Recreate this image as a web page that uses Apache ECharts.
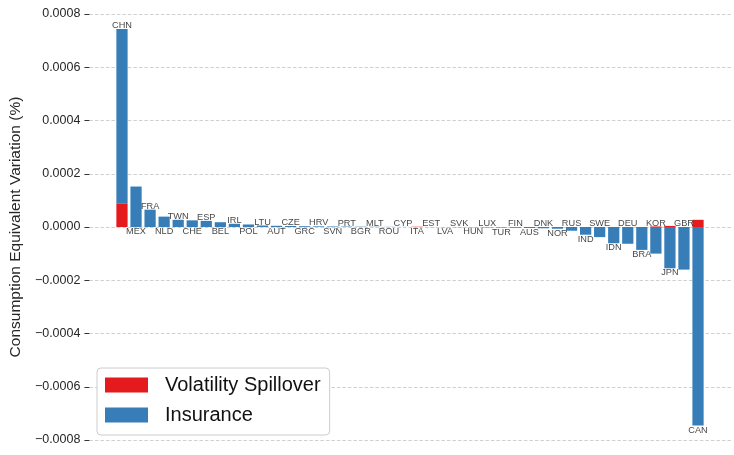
<!DOCTYPE html>
<html>
<head>
<meta charset="utf-8">
<script src="https://cdn.jsdelivr.net/npm/echarts@6/dist/echarts.min.js"></script>
<style>
  html, body { margin: 0; padding: 0; background: #fff; }
  #chart { width: 734px; height: 455px; }
</style>
</head>
<body>
<div id="chart"></div>
<script>
// countries in plotted order
const countries = [
  'CHN', 'MEX', 'FRA', 'NLD', 'TWN', 'CHE', 'ESP', 'BEL', 'IRL', 'POL',
  'LTU', 'AUT', 'CZE', 'GRC', 'HRV', 'SVN', 'PRT', 'BGR', 'MLT', 'ROU',
  'CYP', 'ITA', 'EST', 'LVA', 'SVK', 'HUN', 'LUX', 'TUR', 'FIN', 'AUS',
  'DNK', 'NOR', 'RUS', 'IND', 'SWE', 'IDN', 'DEU', 'BRA', 'KOR', 'JPN',
  'GBR', 'CAN'
];
const volatilitySpillover = [
  0.000089, 0, 0, 0, 0, 0, 0, 0, 0, 0,
  0, 0, 0, 0, 0, 0, 0, 0, 0, 0,
  0, 0.000001, 0, 0, 0, 0, 0, 0, 0, 0,
  0, 0, 0, 0, 0, 0, 0, 0, 0.000002, 0.000004,
  0, 0.000027
];
const insurance = [
  0.000655, 0.000152, 0.000065, 0.000039, 0.000027, 0.000025, 0.000023, 0.000018, 0.000012, 0.0000095,
  0.0000056, 0.0000045, 0.0000038, 0.000003, 0.0000024, 0.000002, 0.0000016, 0.0000012, 0.0000009, 0.0000006,
  0.0000003, -0.0000002, -0.0000003, -0.0000005, -0.0000008, -0.000001, -0.0000015, -0.000002, -0.0000028, -0.0000038,
  -0.0000048, -0.0000065, -0.000014, -0.000029, -0.000038, -0.000061, -0.000063, -0.000086, -0.0001, -0.000155,
  -0.00016, -0.000746
];
const yTicks = { min: -0.0008, max: 0.0008, interval: 0.0002 };

const chart = echarts.init(document.getElementById('chart'), null, { renderer: 'canvas' });

const textColor = '#262626';
const fontFamily = '"Liberation Sans", Arial, sans-serif';

// plot frame and the band layout inside it (matplotlib style side margins)
const frame = { left: 87, right: 1, top: 14, bottom: 15 };
const plotW = 734 - frame.left - frame.right;
const span = countries.length - 1 + 0.8;      // bars cover -0.4 .. n-1+0.4
const band = plotW / (span * 1.1);            // 5% margin each side
const barsLeft = frame.left + band * (span * 0.05 + 0.4 - 0.5);
const barsRight = 734 - barsLeft - band * countries.length;

// label anchors: even index above the positive stack, odd below the negative stack
const labelsAbove = [];
const labelsBelow = [];
countries.forEach((c, i) => {
  const parts = [volatilitySpillover[i], insurance[i]];
  const pos = parts.filter(v => v > 0).reduce((a, b) => a + b, 0);
  const neg = parts.filter(v => v < 0).reduce((a, b) => a + b, 0);
  if (i % 2 === 0) labelsAbove.push({ value: [i, pos], name: c });
  else labelsBelow.push({ value: [i, neg], name: c });
});

const labelSeries = (data, position) => ({
  type: 'scatter',
  xAxisIndex: 1,
  yAxisIndex: 1,
  data,
  symbolSize: 0,
  silent: true,
  z: 5,
  label: {
    show: true,
    position,
    distance: 0,
    offset: position === 'top' ? [0, 1] : [0, 0],
    formatter: p => p.name,
    color: '#111',
    fontFamily,
    fontSize: 9.2
  }
});

const option = {
  animation: false,
  backgroundColor: '#fff',
  grid: [
    frame,
    { left: barsLeft, right: barsRight, top: frame.top, bottom: frame.bottom }
  ],
  legend: {
    orient: 'vertical',
    left: 97,
    top: 368,
    padding: [7, 9, 10, 8],
    itemWidth: 43,
    itemHeight: 15,
    itemGap: 10,
    backgroundColor: 'rgba(255,255,255,0.9)',
    borderColor: '#cccccc',
    borderWidth: 1,
    borderRadius: 4,
    icon: 'rect',
    data: ['Volatility Spillover', 'Insurance'],
    textStyle: {
      color: '#111',
      fontFamily,
      fontSize: 20,
      padding: [0, 0, 0, 12]
    }
  },
  xAxis: [
    { type: 'value', gridIndex: 0, min: 0, max: 1, show: false },
    { type: 'category', gridIndex: 1, data: countries, show: false, boundaryGap: true }
  ],
  yAxis: [
    {
      type: 'value',
      gridIndex: 0,
      min: yTicks.min,
      max: yTicks.max,
      interval: yTicks.interval,
      name: 'Consumption Equivalent Variation (%)',
      nameLocation: 'middle',
      nameGap: 60,
      nameTextStyle: { color: textColor, fontFamily, fontSize: 15.5 },
      axisLine: { show: false, onZero: false },
      axisTick: { show: true, length: 5, lineStyle: { color: '#333', width: 1 } },
      axisLabel: {
        margin: 9,
        color: textColor,
        fontFamily,
        fontSize: 12.5,
        formatter: v => (v < -1e-12 ? '\u2212' : '') + Math.abs(v).toFixed(4)
      },
      splitLine: {
        show: true,
        lineStyle: { color: '#d0d0d0', width: 1, type: [3.5, 2] }
      }
    },
    {
      type: 'value',
      gridIndex: 1,
      min: yTicks.min,
      max: yTicks.max,
      show: false,
      splitLine: { show: false }
    }
  ],
  series: [
    {
      name: 'Volatility Spillover',
      type: 'bar',
      xAxisIndex: 1,
      yAxisIndex: 1,
      stack: 'total',
      barWidth: '80%',
      itemStyle: { color: '#e41a1c' },
      data: volatilitySpillover
    },
    {
      name: 'Insurance',
      type: 'bar',
      xAxisIndex: 1,
      yAxisIndex: 1,
      stack: 'total',
      barWidth: '80%',
      itemStyle: { color: '#377eb8' },
      data: insurance
    },
    labelSeries(labelsAbove, 'top'),
    labelSeries(labelsBelow, 'bottom')
  ]
};

chart.setOption(option);
</script>
</body>
</html>
